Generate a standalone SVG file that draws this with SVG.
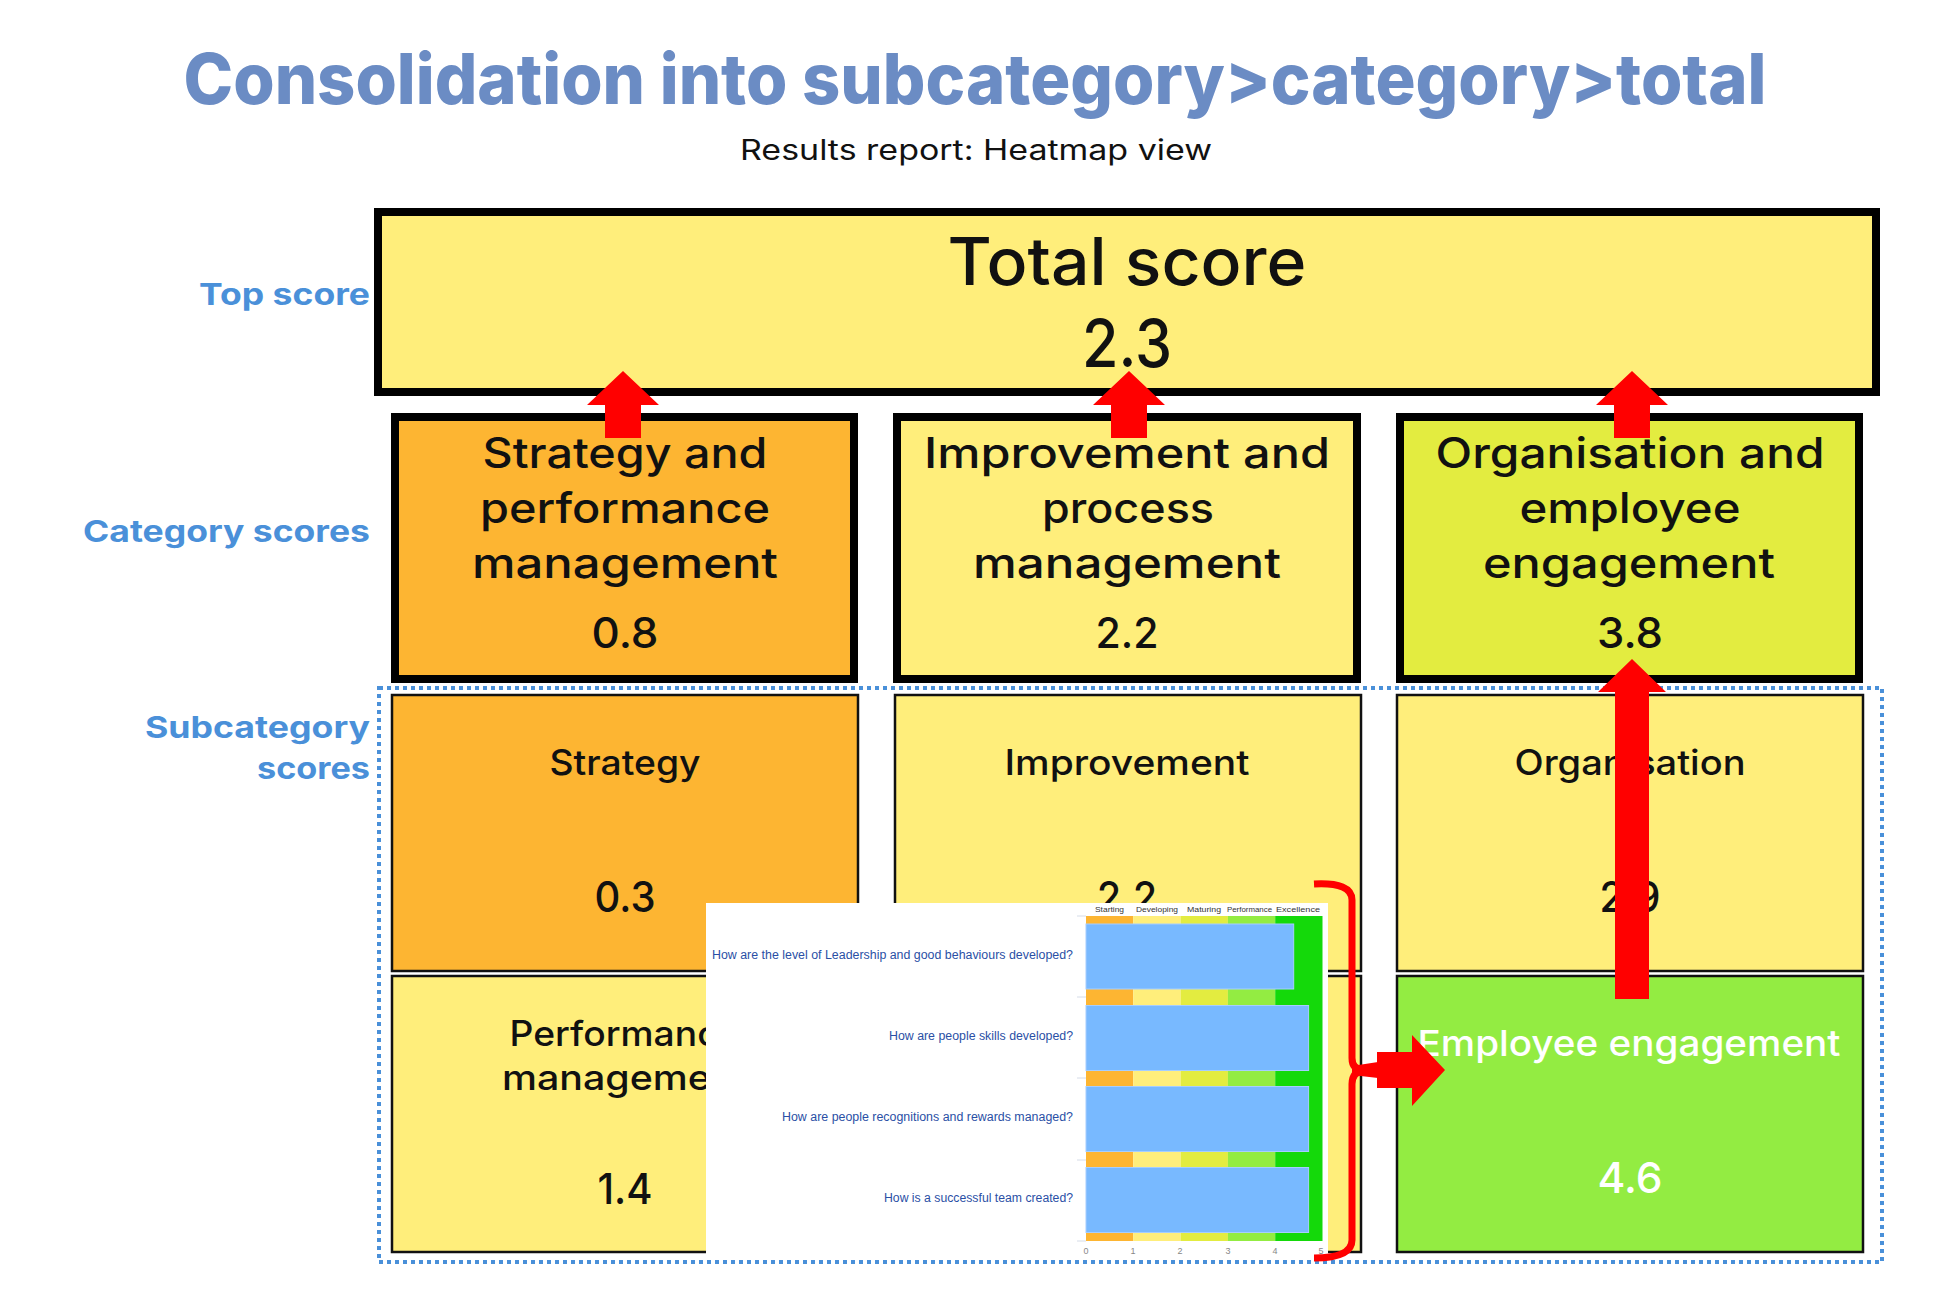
<svg xmlns="http://www.w3.org/2000/svg" width="1949" height="1302" viewBox="0 0 1949 1302">
<style>
  .bg{fill:#ffffff}
  .title{font-family:Inter,"Open Sans","Liberation Sans",sans-serif;font-weight:800;fill:#6B8CC4}
  .sub{font-family:Inter,"Open Sans","Liberation Sans",sans-serif;font-weight:400;fill:#111}
  .side{font-family:Inter,"Open Sans","Liberation Sans",sans-serif;font-weight:700;fill:#4A90D9;font-size:30px;text-anchor:end}
  .box{font-family:Inter,"Open Sans","Liberation Sans",sans-serif;font-weight:500;fill:#111;text-anchor:middle}
  .thick{stroke:#000;stroke-width:8}
  .thin{stroke:#111;stroke-width:2.5}
  .orange{fill:#FDB532}
  .yellow{fill:#FFEE7B}
  .lime{fill:#E3EC40}
  .green{fill:#93EC42}
  .red{fill:#FF0000}
  .q{font-family:"Liberation Sans",Arial,sans-serif;font-size:12px;fill:#2A4FA5;text-anchor:end}
  .hd{font-family:"Liberation Sans",Arial,sans-serif;font-size:8px;fill:#333}
  .ax{font-family:"Liberation Sans",Arial,sans-serif;font-size:9px;fill:#888;text-anchor:middle}
  .bar{fill:#78B9FF;stroke:#A6CEFF;stroke-width:1}
</style>
<rect class="bg" x="0" y="0" width="1949" height="1302"/>

<g id="title">
  <text class="title" x="975" y="104" font-size="70" text-anchor="middle" textLength="1583" lengthAdjust="spacingAndGlyphs">Consolidation into subcategory&gt;category&gt;total</text>
  <text class="sub" x="976" y="160" font-size="28" text-anchor="middle" textLength="472" lengthAdjust="spacingAndGlyphs">Results report: Heatmap view</text>
</g>

<g id="side-labels">
  <text class="side" x="370" y="305" textLength="171" lengthAdjust="spacingAndGlyphs">Top score</text>
  <text class="side" x="370" y="542" textLength="287" lengthAdjust="spacingAndGlyphs">Category scores</text>
  <text class="side" x="370" y="738" textLength="225" lengthAdjust="spacingAndGlyphs">Subcategory</text>
  <text class="side" x="370" y="779" textLength="113" lengthAdjust="spacingAndGlyphs">scores</text>
</g>

<g id="total">
  <rect class="yellow thick" x="378" y="212" width="1498" height="180"/>
  <text class="box" x="1127" y="285" font-size="66" textLength="359" lengthAdjust="spacingAndGlyphs">Total score</text>
  <text class="box" x="1127" y="367" font-size="66" textLength="90" lengthAdjust="spacingAndGlyphs">2.3</text>
</g>

<g id="cat-strategy">
  <rect class="orange thick" x="395" y="417" width="459" height="262"/>
  <text class="box" x="625" y="468" font-size="42" textLength="285" lengthAdjust="spacingAndGlyphs">Strategy and</text>
  <text class="box" x="625" y="523" font-size="42" textLength="290" lengthAdjust="spacingAndGlyphs">performance</text>
  <text class="box" x="625" y="578" font-size="42" textLength="306" lengthAdjust="spacingAndGlyphs">management</text>
  <text class="box" x="625" y="648" font-size="42" textLength="67" lengthAdjust="spacingAndGlyphs">0.8</text>
</g>
<g id="cat-improvement">
  <rect class="yellow thick" x="897" y="417" width="460" height="262"/>
  <text class="box" x="1127" y="468" font-size="42" textLength="406" lengthAdjust="spacingAndGlyphs">Improvement and</text>
  <text class="box" x="1128" y="523" font-size="42" textLength="172" lengthAdjust="spacingAndGlyphs">process</text>
  <text class="box" x="1127" y="578" font-size="42" textLength="308" lengthAdjust="spacingAndGlyphs">management</text>
  <text class="box" x="1127" y="648" font-size="42" textLength="63" lengthAdjust="spacingAndGlyphs">2.2</text>
</g>
<g id="cat-organisation">
  <rect class="lime thick" x="1400" y="417" width="459" height="262"/>
  <text class="box" x="1630" y="468" font-size="42" textLength="389" lengthAdjust="spacingAndGlyphs">Organisation and</text>
  <text class="box" x="1630" y="523" font-size="42" textLength="221" lengthAdjust="spacingAndGlyphs">employee</text>
  <text class="box" x="1629" y="578" font-size="42" textLength="292" lengthAdjust="spacingAndGlyphs">engagement</text>
  <text class="box" x="1630" y="648" font-size="42" textLength="66" lengthAdjust="spacingAndGlyphs">3.8</text>
</g>

<g id="sub-strategy">
  <rect class="orange thin" x="392" y="695" width="466" height="276"/>
  <text class="box" x="625" y="775" font-size="35" textLength="151" lengthAdjust="spacingAndGlyphs">Strategy</text>
  <text class="box" x="625" y="912" font-size="43" textLength="61" lengthAdjust="spacingAndGlyphs">0.3</text>
</g>
<g id="sub-improvement">
  <rect class="yellow thin" x="895" y="695" width="466" height="276"/>
  <text class="box" x="1127" y="775" font-size="35" textLength="245" lengthAdjust="spacingAndGlyphs">Improvement</text>
  <text class="box" x="1127" y="912" font-size="43" textLength="60" lengthAdjust="spacingAndGlyphs">2.2</text>
</g>
<g id="sub-organisation">
  <rect class="yellow thin" x="1397" y="695" width="466" height="276"/>
  <text class="box" x="1630" y="775" font-size="35" textLength="231" lengthAdjust="spacingAndGlyphs">Organisation</text>
  <text class="box" x="1630" y="912" font-size="43" textLength="61" lengthAdjust="spacingAndGlyphs">2.9</text>
</g>
<g id="sub-performance">
  <rect class="yellow thin" x="392" y="976" width="466" height="276"/>
  <text class="box" x="625" y="1046" font-size="35" textLength="231" lengthAdjust="spacingAndGlyphs">Performance</text>
  <text class="box" x="625" y="1090" font-size="35" textLength="246" lengthAdjust="spacingAndGlyphs">management</text>
  <text class="box" x="625" y="1204" font-size="43" textLength="55" lengthAdjust="spacingAndGlyphs">1.4</text>
</g>
<g id="sub-middle">
  <rect class="yellow thin" x="895" y="976" width="466" height="276"/>
</g>
<g id="sub-employee">
  <rect class="green thin" x="1397" y="976" width="466" height="276"/>
  <text class="box" x="1629" y="1056" font-size="36" style="fill:#fff" textLength="423" lengthAdjust="spacingAndGlyphs">Employee engagement</text>
  <text class="box" x="1630" y="1193" font-size="43" style="fill:#fff" textLength="65" lengthAdjust="spacingAndGlyphs">4.6</text>
</g>

<g id="subcategory-frame">
  <rect x="379" y="688" width="1503" height="574" fill="none" stroke="#4A90D9" stroke-width="4" stroke-dasharray="4 4"/>
</g>

<g id="chart-panel">
  <rect x="706" y="903" width="622" height="352" fill="#fff"/>
  <g id="chart-bands">
    <rect x="1086" y="916" width="47.3" height="325" fill="#FDB532"/>
    <rect x="1133.3" y="916" width="47.3" height="325" fill="#FFEE7B"/>
    <rect x="1180.6" y="916" width="47.3" height="325" fill="#E3EC40"/>
    <rect x="1227.9" y="916" width="47.3" height="325" fill="#93EC42"/>
    <rect x="1275.2" y="916" width="47.3" height="325" fill="#14D90A"/>
  </g>
  <g stroke="#D5DCE8" stroke-width="1">
    <line x1="1077" y1="916" x2="1086" y2="916"/>
    <line x1="1077" y1="997" x2="1086" y2="997"/>
    <line x1="1077" y1="1078" x2="1086" y2="1078"/>
    <line x1="1077" y1="1160" x2="1086" y2="1160"/>
    <line x1="1077" y1="1241" x2="1086" y2="1241"/>
  </g>
  <rect class="bar" x="1086" y="924" width="207.7" height="65"/>
  <rect class="bar" x="1086" y="1005.5" width="222.6" height="65"/>
  <rect class="bar" x="1086" y="1086.5" width="222.6" height="65"/>
  <rect class="bar" x="1086" y="1167.5" width="222.6" height="65"/>
  <text class="hd" x="1095" y="912" textLength="29" lengthAdjust="spacingAndGlyphs">Starting</text>
  <text class="hd" x="1136" y="912" textLength="42" lengthAdjust="spacingAndGlyphs">Developing</text>
  <text class="hd" x="1187" y="912" textLength="34" lengthAdjust="spacingAndGlyphs">Maturing</text>
  <text class="hd" x="1227" y="912" textLength="45" lengthAdjust="spacingAndGlyphs">Performance</text>
  <text class="hd" x="1276" y="912" textLength="44" lengthAdjust="spacingAndGlyphs">Excellence</text>
  <text class="q" x="1073" y="959" textLength="361" lengthAdjust="spacingAndGlyphs">How are the level of Leadership and good behaviours developed?</text>
  <text class="q" x="1073" y="1040" textLength="184" lengthAdjust="spacingAndGlyphs">How are people skills developed?</text>
  <text class="q" x="1073" y="1121" textLength="291" lengthAdjust="spacingAndGlyphs">How are people recognitions and rewards managed?</text>
  <text class="q" x="1073" y="1202" textLength="189" lengthAdjust="spacingAndGlyphs">How is a successful team created?</text>
  <text class="ax" x="1086" y="1254">0</text>
  <text class="ax" x="1133" y="1254">1</text>
  <text class="ax" x="1180" y="1254">2</text>
  <text class="ax" x="1228" y="1254">3</text>
  <text class="ax" x="1275" y="1254">4</text>
  <text class="ax" x="1321" y="1254">5</text>
</g>

<g id="connectors">
  <path d="M1314,884 Q1352,882 1352,900 L1352,1058 Q1352,1070 1364,1070 Q1352,1072 1352,1084 L1352,1240 Q1352,1258 1314,1258" fill="none" stroke="#FF0000" stroke-width="7" stroke-linejoin="round"/>
  <polygon class="red" points="1352,1066 1378,1062 1378,1078 1352,1075"/>
  <polygon class="red" points="623,371 659,405 641,405 641,438 605,438 605,405 587,405"/>
  <polygon class="red" points="1129,371 1165,405 1147,405 1147,438 1111,438 1111,405 1093,405"/>
  <polygon class="red" points="1632,371 1668,405 1650,405 1650,438 1614,438 1614,405 1596,405"/>
  <polygon class="red" points="1632,659 1666,692 1649,692 1649,999 1615,999 1615,692 1598,692"/>
  <polygon class="red" points="1445,1070 1412,1035 1412,1052 1377,1052 1377,1088 1412,1088 1412,1106"/>
</g>
</svg>
